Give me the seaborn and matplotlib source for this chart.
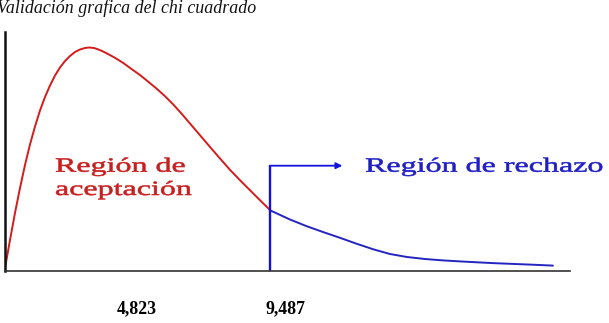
import numpy as np
import pandas as pd
import matplotlib
matplotlib.use("Agg")
import matplotlib.pyplot as plt
import seaborn as sns
from matplotlib.patheffects import AbstractPathEffect
from matplotlib.transforms import Affine2D, offset_copy, blended_transform_factory

# ---- data ----
accept_x = [0.0, 0.196, 0.374, 0.553, 0.731, 0.909, 1.088, 1.266, 1.445, 1.623,
            1.801, 1.979, 2.158, 2.336, 2.514, 2.693, 2.871, 3.014, 3.192, 3.335,
            3.477, 3.645, 3.941, 4.237, 4.511, 4.832, 5.118, 5.428, 5.724, 6.020,
            6.295, 6.616, 6.972, 7.329, 7.686, 8.042, 8.399, 8.755, 9.112, 9.487]
accept_y = [0.0, 0.031, 0.058, 0.083, 0.106, 0.1265, 0.1445, 0.1605, 0.174, 0.1855,
            0.1955, 0.2035, 0.210, 0.215, 0.219, 0.2215, 0.223, 0.2235, 0.223, 0.2217,
            0.220, 0.2177, 0.2132, 0.2080, 0.2024, 0.1960, 0.1895, 0.1823, 0.1748, 0.1665,
            0.1580, 0.1475, 0.1358, 0.1241, 0.1125, 0.1012, 0.0908, 0.0808, 0.0708, 0.0605]
reject_x = [9.487, 10.182, 10.777, 11.359, 11.965, 12.535, 13.142, 13.748, 14.355,
            14.997, 15.639, 16.245, 16.851, 17.493, 18.206, 18.919, 19.561]
reject_y = [0.0605, 0.0515, 0.0448, 0.0390, 0.0332, 0.0275, 0.0218, 0.0170, 0.0140,
            0.0120, 0.0106, 0.0096, 0.0087, 0.0078, 0.0070, 0.0062, 0.0054]
critical_value = 9.487
computed_value = 4.823
value_labels = ["4,823", "9,487"]
title_text = "Validación grafica del chi cuadrado"
accept_label = ["Región de", "aceptación"]
reject_label = "Región de rechazo"

RED_LINE = "#d41c1c"
RED_TEXT = "#c81e1e"
BLUE_LINE = "#2424c0"
BLUE_V = "#1212dc"
BLUE_TEXT = "#1e1ec4"


class HStretch(AbstractPathEffect):
    """Stretch glyphs horizontally about the text origin (slightly emboldened)."""
    def __init__(self, sx, lw=0.4):
        super().__init__()
        self.sx = sx
        self.lw = lw

    def draw_path(self, renderer, gc, tpath, affine, rgbFace=None):
        gc0 = renderer.new_gc()
        gc0.copy_properties(gc)
        gc0.set_linewidth(self.lw)
        if rgbFace is not None:
            gc0.set_foreground(rgbFace)
        renderer.draw_path(gc0, tpath, Affine2D().scale(self.sx, 1.0) + affine, rgbFace)
        gc0.restore()


sns.set_style("white")
plt.rcParams["font.family"] = ["Liberation Serif", "DejaVu Serif"]

fig = plt.figure(figsize=(6.09, 3.23), dpi=100)
ax = fig.add_axes([4.5 / 609, 52 / 323, 565.5 / 609, 239 / 323])

df_a = pd.DataFrame({"x": accept_x, "y": accept_y})
df_r = pd.DataFrame({"x": reject_x, "y": reject_y})
sns.lineplot(data=df_a, x="x", y="y", color=RED_LINE, lw=1.4, sort=False,
             estimator=None, ax=ax)
sns.lineplot(data=df_r, x="x", y="y", color=BLUE_LINE, lw=1.4, sort=False,
             estimator=None, ax=ax)

ax.set_xlim(0, 20.17)
ax.set_ylim(0, 0.239)

# critical-value marker with arrow
arrow_y = 0.1053
ax.plot([critical_value, critical_value], [0, arrow_y], color=BLUE_V, lw=1.7,
        solid_capstyle="butt")
ax.annotate("", xy=(12.05, arrow_y), xytext=(critical_value - 0.03, arrow_y),
            arrowprops=dict(arrowstyle="-|>", color=BLUE_V, lw=1.3,
                            mutation_scale=9, shrinkA=0, shrinkB=0))

# region labels (stretched wide like the original slide)
fs = 14.6
st = [HStretch(1.58)]
ax.text(1.80, 0.0993, accept_label[0], color=RED_TEXT, fontsize=fs,
        va="baseline", ha="left", path_effects=st)
ax.text(1.80, 0.0760, accept_label[1], color=RED_TEXT, fontsize=fs,
        va="baseline", ha="left", path_effects=st)
ax.text(12.86, 0.0993, reject_label, color=BLUE_TEXT, fontsize=fs,
        va="baseline", ha="left", path_effects=st)

# value labels below the axis
trans = blended_transform_factory(ax.transData, fig.transFigure)
ax.text(computed_value, 10 / 323, value_labels[0],
        transform=offset_copy(trans, fig=fig, x=-3, y=0, units="dots"),
        ha="center", va="baseline", fontsize=12.8, fontweight="bold", color="black")
ax.text(critical_value, 10 / 323, value_labels[1],
        transform=offset_copy(trans, fig=fig, x=-5, y=0, units="dots"),
        ha="left", va="baseline", fontsize=12.8, fontweight="bold", color="black")

# title (partly cut at the left edge, as in the original)
fig.text(-3 / 609, (323 - 13) / 323, title_text, fontsize=12.9, style="italic",
         ha="left", va="baseline", color="#111111")

ax.set_xticks([])
ax.set_yticks([])
ax.set_xlabel("")
ax.set_ylabel("")
for s in ["top", "right"]:
    ax.spines[s].set_visible(False)
ax.spines["left"].set_color("#111111")
ax.spines["left"].set_linewidth(1.8)
ax.spines["bottom"].set_color("#333333")
ax.spines["bottom"].set_linewidth(1.2)

fig.savefig("out.png", dpi=100)
